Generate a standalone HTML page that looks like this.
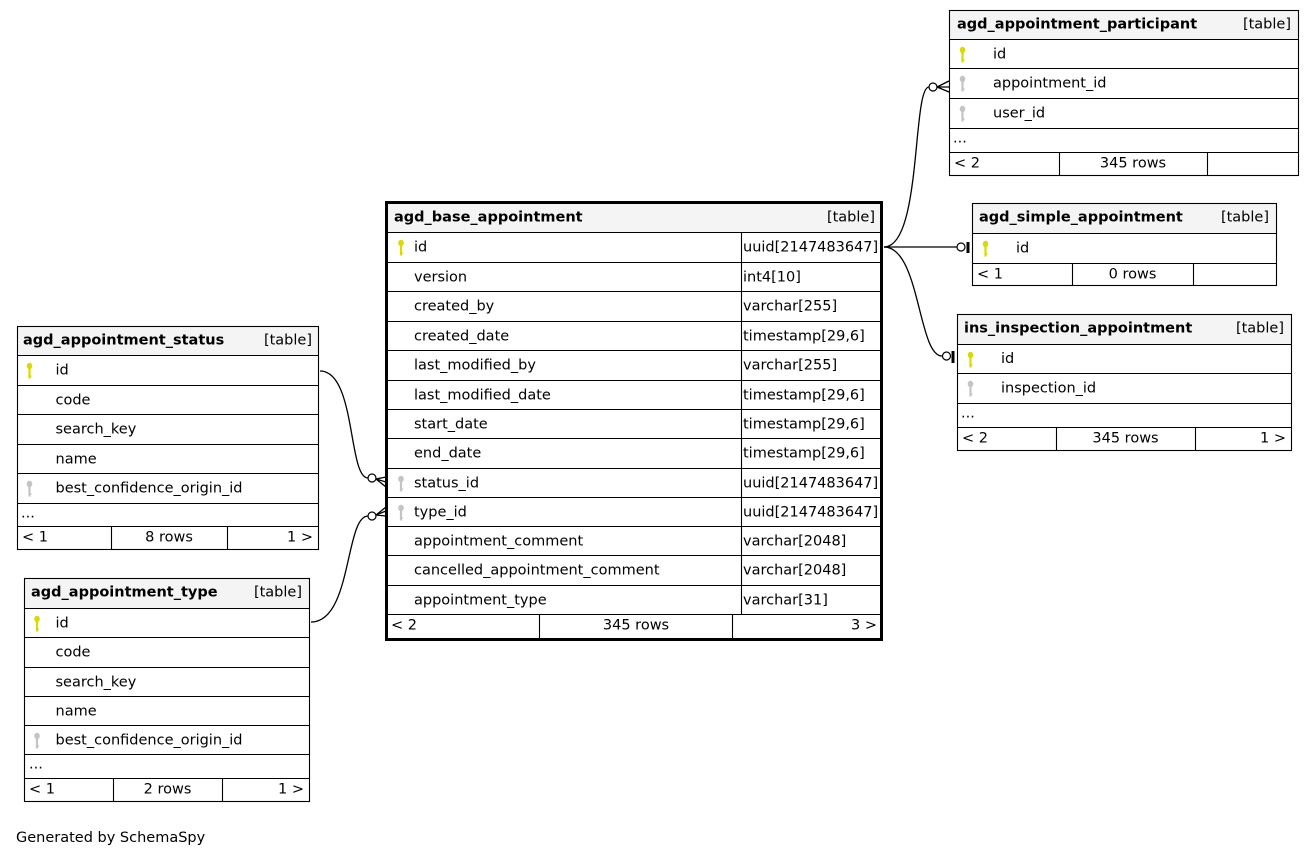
<!DOCTYPE html>
<html>
<head>
<meta charset="utf-8">
<style>
html,body{margin:0;padding:0;background:#fff;}
svg{display:block;}
text{font-family:"DejaVu Sans","Liberation Sans",sans-serif;font-size:14.5px;fill:#000;}
.b{font-weight:bold;}
.e{text-anchor:end;}
.m{text-anchor:middle;}
.ln{stroke:#000;stroke-width:1.1;fill:none;}
.hd{fill:#f4f4f4;}
.ky{fill:#dada00;stroke:#dada00;}
.kg{fill:#c4c4c4;stroke:#c4c4c4;}
.ed{stroke:#000;stroke-width:1.3;fill:none;}
</style>
</head>
<body>
<svg width="1315" height="857" viewBox="0 0 1315 857" xmlns="http://www.w3.org/2000/svg">
<defs>
<g id="key"><ellipse cx="0" cy="0" rx="2.8" ry="3.2" stroke="none"/><rect x="-1.1" y="2" width="2.2" height="10.5" stroke="none"/><rect x="-1.1" y="9.5" width="3.2" height="1.3" stroke="none"/></g>
</defs>

<!-- ===== Edges ===== -->
<path class="ed" d="M320,371 C356,371 348,478 368,478"/>
<circle cx="372" cy="478" r="4" fill="#fff" stroke="#000" stroke-width="1.2"/>
<path class="ed" d="M376,479 L386,477 M376,479 L386,482 M376,479 L386,487" stroke-width="1.7"/>
<path class="ed" d="M311,622 C352,622 345,516 368,516"/>
<circle cx="372" cy="516" r="4" fill="#fff" stroke="#000" stroke-width="1.2"/>
<path class="ed" d="M376,515 L386,507 M376,515 L386,511 M376,515 L386,516" stroke-width="1.7"/>
<path class="ed" d="M884,247 C922,247 912,87 929,87"/>
<circle cx="933" cy="87" r="4" fill="#fff" stroke="#000" stroke-width="1.2"/>
<path class="ed" d="M937,87 L949,81 M937,87 L949,87 M937,87 L949,92" stroke-width="1.5"/>
<path class="ed" d="M884,247 L957,247"/>
<circle cx="961" cy="247" r="4" fill="#fff" stroke="#000" stroke-width="1.2"/>
<rect x="966.5" y="242" width="3" height="11" fill="#000"/>
<path class="ed" d="M884,247 C920,247 918,356 942,356"/>
<circle cx="946.5" cy="356" r="4" fill="#fff" stroke="#000" stroke-width="1.2"/>
<rect x="951.5" y="351" width="3" height="12" fill="#000"/>

<!-- ===== agd_base_appointment ===== -->
<rect class="hd" x="388" y="204" width="492" height="28"/>
<rect x="386.5" y="202.5" width="495" height="437" fill="none" stroke="#000" stroke-width="3"/>
<g class="ln">
<path d="M388,232.5H880M388,262.5H880M388,291.5H880M388,321.5H880M388,350.5H880M388,380.5H880M388,409.5H880M388,438.5H880M388,468.5H880M388,497.5H880M388,526.5H880M388,555.5H880M388,585.5H880M388,614.5H880"/>
<path d="M741.5,232V614M539.5,614V638M732.5,614V638"/>
</g>
<text class="b" x="394" y="221.5">agd_base_appointment</text>
<text class="e" x="875" y="221.5">[table]</text>
<use href="#key" class="ky" x="401" y="243"/>
<use href="#key" class="kg" x="401" y="479"/>
<use href="#key" class="kg" x="401" y="508"/>
<text x="414" y="251.5">id</text><text x="743" y="251.5">uuid[2147483647]</text>
<text x="414" y="281.5">version</text><text x="743" y="281.5">int4[10]</text>
<text x="414" y="310.5">created_by</text><text x="743" y="310.5">varchar[255]</text>
<text x="414" y="340.5">created_date</text><text x="743" y="340.5">timestamp[29,6]</text>
<text x="414" y="369.5">last_modified_by</text><text x="743" y="369.5">varchar[255]</text>
<text x="414" y="399.5">last_modified_date</text><text x="743" y="399.5">timestamp[29,6]</text>
<text x="414" y="428.5">start_date</text><text x="743" y="428.5">timestamp[29,6]</text>
<text x="414" y="457.5">end_date</text><text x="743" y="457.5">timestamp[29,6]</text>
<text x="414" y="487.5">status_id</text><text x="743" y="487.5">uuid[2147483647]</text>
<text x="414" y="516.5">type_id</text><text x="743" y="516.5">uuid[2147483647]</text>
<text x="414" y="545.5">appointment_comment</text><text x="743" y="545.5">varchar[2048]</text>
<text x="414" y="574.5">cancelled_appointment_comment</text><text x="743" y="574.5">varchar[2048]</text>
<text x="414" y="604.5">appointment_type</text><text x="743" y="604.5">varchar[31]</text>
<text x="391" y="629.5">&lt; 2</text>
<text class="m" x="636" y="629.5">345 rows</text>
<text class="e" x="877" y="629.5">3 &gt;</text>

<!-- ===== agd_appointment_participant ===== -->
<rect class="hd" x="950" y="11" width="348" height="28"/>
<rect class="ln" x="949.5" y="10.5" width="349" height="165"/>
<path class="ln" d="M950,39.5H1298M950,68.5H1298M950,98.5H1298M950,128.5H1298M950,152.5H1298M1059.5,152V176M1207.5,152V176"/>
<text class="b" x="957" y="28.5">agd_appointment_participant</text>
<text class="e" x="1291" y="28.5">[table]</text>
<use href="#key" class="ky" x="962.5" y="50"/>
<use href="#key" class="kg" x="962.5" y="79"/>
<use href="#key" class="kg" x="962.5" y="109"/>
<text x="993" y="58.5">id</text>
<text x="993" y="87.5">appointment_id</text>
<text x="993" y="117.5">user_id</text>
<text x="953" y="142.5">...</text>
<text x="954" y="167.5">&lt; 2</text>
<text class="m" x="1133" y="167.5">345 rows</text>

<!-- ===== agd_simple_appointment ===== -->
<rect class="hd" x="973" y="204" width="304" height="29"/>
<rect class="ln" x="972.5" y="203.5" width="304" height="82"/>
<path class="ln" d="M973,233.5H1277M973,263.5H1277M1072.5,263V286M1193.5,263V286"/>
<text class="b" x="979" y="221.5">agd_simple_appointment</text>
<text class="e" x="1269" y="221.5">[table]</text>
<use href="#key" class="ky" x="985.5" y="244"/>
<text x="1016" y="252.5">id</text>
<text x="977" y="278.5">&lt; 1</text>
<text class="m" x="1132.5" y="278.5">0 rows</text>

<!-- ===== ins_inspection_appointment ===== -->
<rect class="hd" x="958" y="315" width="334" height="29"/>
<rect class="ln" x="957.5" y="314.5" width="334" height="136"/>
<path class="ln" d="M958,344.5H1292M958,373.5H1292M958,403.5H1292M958,427.5H1292M1056.5,427V451M1195.5,427V451"/>
<text class="b" x="964" y="332.5">ins_inspection_appointment</text>
<text class="e" x="1284" y="332.5">[table]</text>
<use href="#key" class="ky" x="970.5" y="355"/>
<use href="#key" class="kg" x="970.5" y="384"/>
<text x="1001" y="363">id</text>
<text x="1001" y="392.5">inspection_id</text>
<text x="961" y="417.5">...</text>
<text x="962" y="442.5">&lt; 2</text>
<text class="m" x="1125.5" y="442.5">345 rows</text>
<text class="e" x="1286" y="442.5">1 &gt;</text>

<!-- ===== agd_appointment_status ===== -->
<rect class="hd" x="18" y="327" width="300" height="28"/>
<rect class="ln" x="17.5" y="326.5" width="301" height="223"/>
<path class="ln" d="M18,355.5H318M18,385.5H318M18,414.5H318M18,444.5H318M18,473.5H318M18,503.5H318M18,526.5H318M111.5,526V550M227.5,526V550"/>
<text class="b" x="23" y="344.5">agd_appointment_status</text>
<text class="e" x="312" y="344.5">[table]</text>
<use href="#key" class="ky" x="29.5" y="366"/>
<use href="#key" class="kg" x="29.5" y="484"/>
<text x="55.5" y="374.5">id</text>
<text x="55.5" y="404.5">code</text>
<text x="55.5" y="433.5">search_key</text>
<text x="55.5" y="463.5">name</text>
<text x="55.5" y="492.5">best_confidence_origin_id</text>
<text x="21" y="517.5">...</text>
<text x="22" y="541.5">&lt; 1</text>
<text class="m" x="169" y="541.5">8 rows</text>
<text class="e" x="313" y="541.5">1 &gt;</text>

<!-- ===== agd_appointment_type ===== -->
<rect class="hd" x="25" y="579" width="285" height="29"/>
<rect class="ln" x="24.5" y="578.5" width="285" height="223"/>
<path class="ln" d="M25,608.5H310M25,637.5H310M25,667.5H310M25,696.5H310M25,725.5H310M25,754.5H310M25,778.5H310M113.5,778V802M222.5,778V802"/>
<text class="b" x="31" y="596.5">agd_appointment_type</text>
<text class="e" x="302" y="596.5">[table]</text>
<use href="#key" class="ky" x="37" y="619"/>
<use href="#key" class="kg" x="37" y="736"/>
<text x="55.5" y="627.5">id</text>
<text x="55.5" y="656.5">code</text>
<text x="55.5" y="686.5">search_key</text>
<text x="55.5" y="715.5">name</text>
<text x="55.5" y="744.5">best_confidence_origin_id</text>
<text x="29" y="768.5">...</text>
<text x="29" y="793.5">&lt; 1</text>
<text class="m" x="167.5" y="793.5">2 rows</text>
<text class="e" x="304" y="793.5">1 &gt;</text>

<text x="16" y="842">Generated by SchemaSpy</text>
</svg>
</body>
</html>
